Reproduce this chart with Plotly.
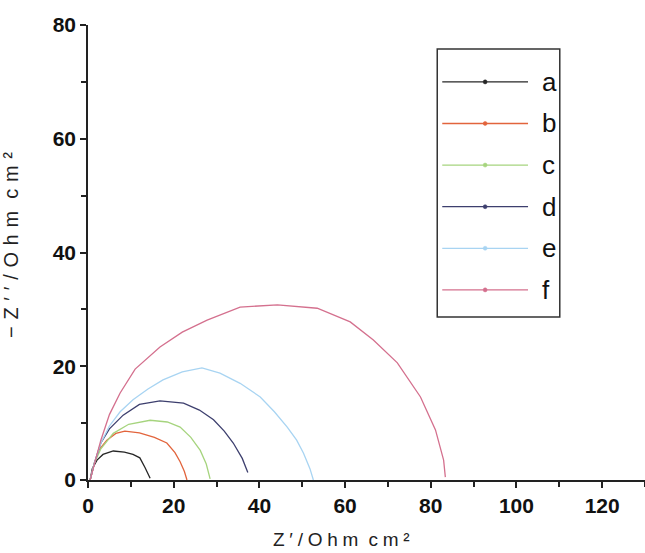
import plotly.graph_objects as go

labels = ["a", "b", "c", "d", "e", "f"]
colors = ["#262626", "#e2643c", "#a6d47e", "#3d3f6e", "#a8d4f2", "#d4708e"]

a_x = [0.5, 1.0, 2.1, 3.5, 5.9, 8.5, 10.5, 12.1, 13.3, 14.5]
a_y = [0.0, 2.0, 3.5, 4.5, 5.1, 4.9, 4.5, 3.9, 2.2, 0.3]

b_x = [0.5, 1.5, 2.5, 4.4, 6.5, 8.6, 12.0, 15.5, 18.4, 20.3, 21.5, 22.5, 23.1]
b_y = [0.0, 3.0, 5.2, 7.0, 8.2, 8.6, 8.3, 7.5, 6.5, 4.8, 3.2, 1.5, 0.0]

c_x = [0.5, 1.5, 3.0, 5.9, 9.5, 14.5, 18.5, 21.5, 24.0, 26.2, 27.6, 28.5]
c_y = [0.0, 3.0, 5.5, 8.2, 9.8, 10.5, 10.2, 9.3, 7.5, 5.2, 2.8, 0.2]

d_x = [0.5, 1.5, 3.0, 5.0, 8.2, 12.0, 16.8, 22.3, 26.0, 29.3, 31.8, 33.9, 36.0, 37.3]
d_y = [0.0, 3.0, 6.5, 9.0, 11.4, 13.3, 13.9, 13.5, 12.3, 10.6, 8.6, 6.5, 3.8, 1.3]

e_x = [0.5, 1.5, 3.0, 5.0, 7.5, 10.5, 14.0, 17.5, 22.0, 26.6, 30.8, 35.5, 40.2, 43.5, 46.5, 48.7, 50.3, 51.8, 52.6]
e_y = [0.0, 3.0, 6.5, 9.5, 12.0, 14.1, 16.0, 17.6, 19.0, 19.7, 18.8, 17.0, 14.6, 12.0, 9.3, 7.0, 4.7, 2.0, 0.0]

f_x = [0.5, 1.5, 3.0, 5.0, 7.5, 11.0, 16.8, 22.0, 27.8, 35.5, 44.2, 53.5, 61.2, 66.6, 72.2, 77.6, 81.1, 83.0, 83.4]
f_y = [0.0, 3.0, 7.0, 11.5, 15.3, 19.5, 23.4, 26.0, 28.1, 30.4, 30.8, 30.2, 27.8, 24.6, 20.6, 14.6, 8.8, 3.5, 0.5]

series_x = [a_x, b_x, c_x, d_x, e_x, f_x]
series_y = [a_y, b_y, c_y, d_y, e_y, f_y]

x_ticks = [0, 20, 40, 60, 80, 100, 120]
y_ticks = [0, 20, 40, 60, 80]

FONT = "Arial, Liberation Sans, sans-serif"

fig = go.Figure()
for lab, col, xs, ys in zip(labels, colors, series_x, series_y):
    fig.add_trace(go.Scatter(x=xs, y=ys, mode="lines", name=lab,
                             line=dict(color=col, width=1.3), showlegend=False))

# custom legend box
shapes = [dict(type="rect", xref="paper", yref="paper", x0=0.627, x1=0.847,
               y0=0.358, y1=0.947, line=dict(color="#333333", width=1.5),
               fillcolor="rgba(0,0,0,0)")]
annotations = []
top = 0.875
step = 41.6 / 455
for i, (lab, col) in enumerate(zip(labels, colors)):
    yy = top - i * step
    shapes.append(dict(type="line", xref="paper", yref="paper", x0=0.636, x1=0.790,
                       y0=yy, y1=yy, line=dict(color=col, width=1.3)))
    shapes.append(dict(type="circle", xref="paper", yref="paper",
                       x0=0.713 - 0.0035, x1=0.713 + 0.0035,
                       y0=yy - 0.0045, y1=yy + 0.0045,
                       fillcolor=col, line=dict(color=col, width=0.5)))
    annotations.append(dict(xref="paper", yref="paper", x=0.812, y=yy, text=lab,
                            showarrow=False, xanchor="left", yanchor="middle",
                            font=dict(family=FONT, size=26, color="#111111")))

sp = "\u2005"
xtitle = sp.join(list("Z′/Ohm")) + sp + " " + sp.join(list("cm²"))
sp2 = "\u2004"
ytitle = sp2.join(list("−Z′′/Ohm")) + sp2 + " " + sp2.join(list("cm²"))

annotations.append(dict(xref="paper", yref="paper", x=0.455, y=-0.13, text=xtitle,
                        showarrow=False, xanchor="center", yanchor="middle",
                        font=dict(family=FONT, size=19, color="#222222")))
annotations.append(dict(xref="paper", yref="paper", x=-0.137, y=0.516, text=ytitle,
                        showarrow=False, xanchor="center", yanchor="middle", textangle=-90,
                        font=dict(family=FONT, size=20, color="#222222")))

axis_common = dict(showgrid=False, zeroline=False, showline=True, linecolor="#222222",
                   linewidth=1.6, ticks="outside", ticklen=6, tickwidth=1.5,
                   tickcolor="#222222",
                   tickfont=dict(family=FONT, size=21, color="#111111", weight="bold"))

fig.update_layout(
    width=645, height=553,
    margin=dict(l=88, r=0, t=25, b=73),
    paper_bgcolor="white", plot_bgcolor="white",
    shapes=shapes, annotations=annotations,
    xaxis=dict(range=[0, 130], tickvals=x_ticks,
               minor=dict(tickvals=[10, 30, 50, 70, 90, 110, 130], ticks="outside",
                          ticklen=5, tickwidth=1.5, tickcolor="#222222"),
               **axis_common),
    yaxis=dict(range=[0, 80], tickvals=y_ticks,
               minor=dict(tickvals=[10, 30, 50, 70], ticks="outside",
                          ticklen=5, tickwidth=1.5, tickcolor="#222222"),
               **axis_common),
)

# remove the default page margin so the figure sits at the window's top-left corner
fig.write_html("out.html", config={"displayModeBar": False},
               post_script="document.body.style.margin='0px';")
